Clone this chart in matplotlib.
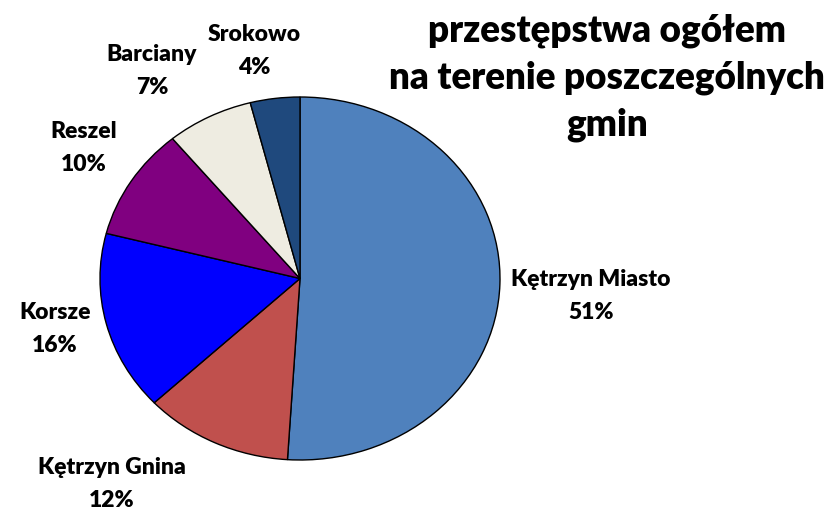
import matplotlib.pyplot as plt

# data
gminy = ['Kętrzyn Miasto', 'Kętrzyn Gnina', 'Korsze', 'Reszel', 'Barciany', 'Srokowo']
udzial = [51, 12, 16, 10, 7, 4]
kolory = ['#4F81BD', '#C0504D', '#0000FF', '#800080', '#EEECE1', '#1F497D']

# label centres in pixels (x, y from top)
etykiety_poz = [(591, 296), (112, 484), (55, 329), (84, 148), (152, 71), (254, 51)]

W, H = 835, 513


def main():
    plt.rcParams['font.family'] = ['Lato', 'DejaVu Sans']
    fig = plt.figure(figsize=(W / 100, H / 100), dpi=100)
    fig.patch.set_facecolor('white')

    # elliptical pie: axes box = pie bounding box
    ax = fig.add_axes([100 / W, 53 / H, 400 / W, 363 / H])
    ax.pie(udzial, colors=kolory, startangle=90, counterclock=False,
           wedgeprops=dict(edgecolor='black', linewidth=1.0))
    ax.set_aspect('auto')
    ax.set_xlim(-1, 1)
    ax.set_ylim(-1, 1)
    ax.axis('off')

    total = sum(udzial)
    for name, val, (px, py) in zip(gminy, udzial, etykiety_poz):
        pct = round(100 * val / total)
        fig.text(px / W, 1 - py / H, f'{name}\n{pct}%', ha='center', va='center',
                 fontsize=16.5, fontweight='heavy', linespacing=1.7)

    fig.text(607 / W, 1 - 78 / H,
             'przestępstwa ogółem\nna terenie poszczególnych\ngmin',
             ha='center', va='center', fontsize=26.5, fontweight='heavy',
             linespacing=1.45)

    fig.savefig('out.png', dpi=100, facecolor='white')


if __name__ == '__main__':
    main()
